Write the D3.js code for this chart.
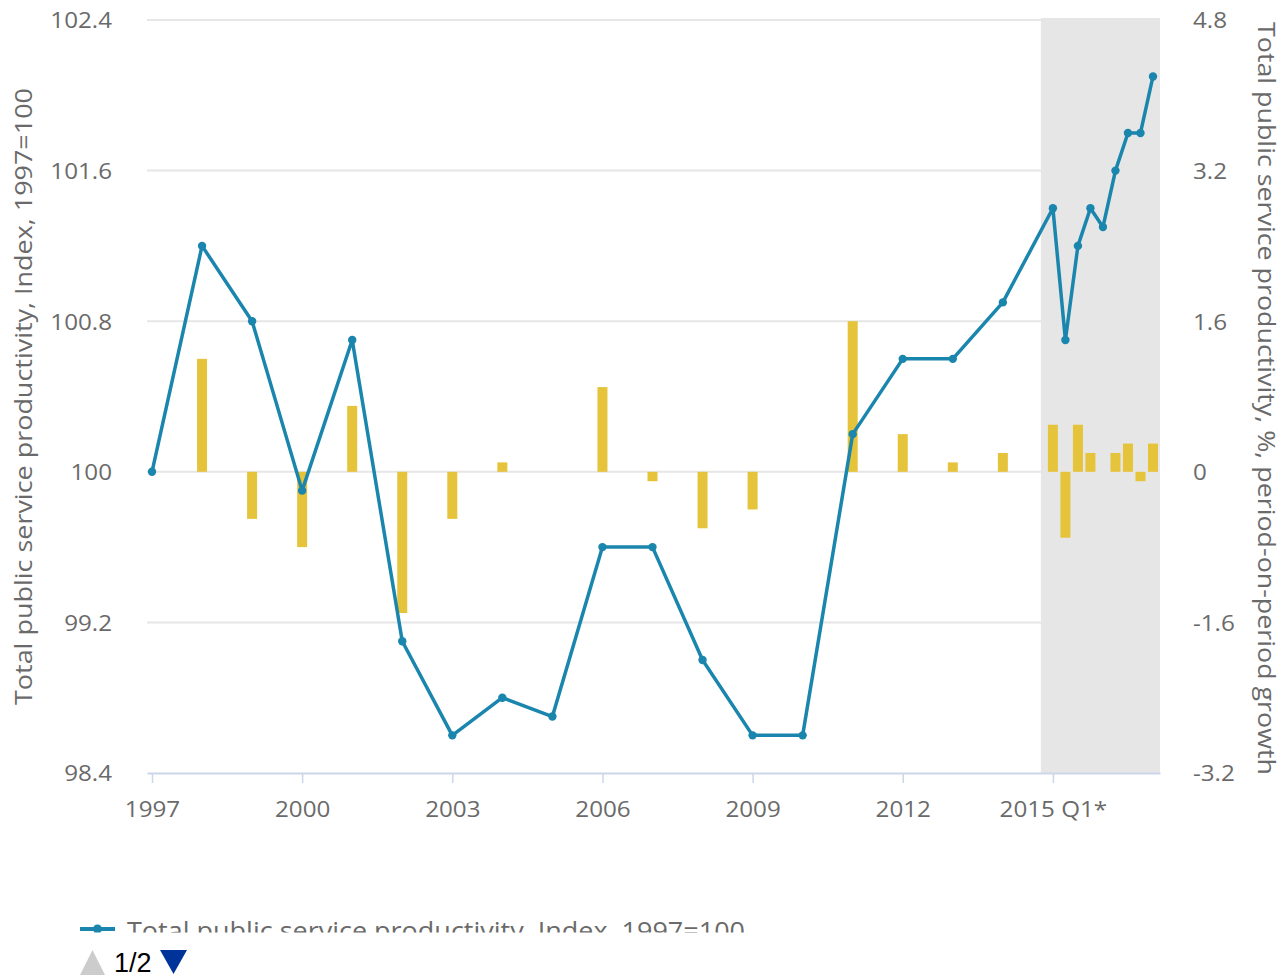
<!DOCTYPE html>
<html>
<head>
<meta charset="utf-8">
<script src="https://cdn.jsdelivr.net/npm/d3@7"></script>
<style>
  html, body { margin: 0; padding: 0; background: #fff; }
  svg { display: block; font-family: "Open Sans", sans-serif; }
</style>
</head>
<body>
<svg id="chart" width="1288" height="977"></svg>
<script>
// ---- data ----
const periods = ["1997","1998","1999","2000","2001","2002","2003","2004","2005","2006","2007","2008","2009","2010","2011","2012","2013","2014",
  "2015 Q1","2015 Q2","2015 Q3","2015 Q4","2016 Q1","2016 Q2","2016 Q3","2016 Q4","2017 Q1"];
const indexValues = [100.0, 101.2, 100.8, 99.9, 100.7, 99.1, 98.6, 98.8, 98.7, 99.6, 99.6, 99.0, 98.6, 98.6, 100.2, 100.6, 100.6, 100.9,
  101.4, 100.7, 101.2, 101.4, 101.3, 101.6, 101.8, 101.8, 102.1];
const growthValues = [null, 1.2, -0.5, -0.8, 0.7, -1.5, -0.5, 0.1, 0, 0.9, -0.1, -0.6, -0.4, 0, 1.6, 0.4, 0.1, 0.2,
  0.5, -0.7, 0.5, 0.2, 0, 0.2, 0.3, -0.1, 0.3];
const xTickValues = [1997, 2000, 2003, 2006, 2009, 2012, 2015];
const xTickLabels = ["1997", "2000", "2003", "2006", "2009", "2012", "2015 Q1*"];
const leftTicks = [98.4, 99.2, 100, 100.8, 101.6, 102.4];
const rightTicks = [-3.2, -1.6, 0, 1.6, 3.2, 4.8];
const bandStart = 2014.76;
const leftTitle = "Total public service productivity, Index, 1997=100";
const rightTitle = "Total public service productivity, %, period-on-period growth";
const legendLabel = "Total public service productivity, Index, 1997=100";

(function () {
function periodToNum(p) {
  const m = p.match(/^(\d{4})(?: Q(\d))?$/);
  const y = +m[1];
  return m[2] ? y + (+m[2] - 1) / 4 : y;
}
const data = periods.map((p, i) => ({ p, t: periodToNum(p), v: indexValues[i], g: growthValues[i] }));

const svg = d3.select("#chart");
const pLeft = 147, pRight = 1160, pTop = 20, pBottom = 773;

const x = d3.scaleLinear().domain([1996.9, 2017.14]).range([pLeft, pRight]);
const yL = d3.scaleLinear().domain([98.4, 102.4]).range([pBottom, pTop]);
const yR = d3.scaleLinear().domain([-3.2, 4.8]).range([pBottom, pTop]);

const lineColor = "#1a86ad";
const barColor = "#e5c33a";
const textColor = "#6a6a6a";
const tickFont = 22, tickStretch = 1.1;

// plot band
svg.append("rect")
  .attr("x", x(bandStart)).attr("y", pTop - 2)
  .attr("width", pRight - x(bandStart)).attr("height", pBottom - pTop + 2)
  .attr("fill", "#e6e6e6");

// gridlines
svg.append("g").selectAll("line").data(leftTicks.filter(d => d !== 98.4)).join("line")
  .attr("x1", pLeft).attr("x2", pRight)
  .attr("y1", d => yL(d)).attr("y2", d => yL(d))
  .attr("stroke", "#e6e6e6").attr("stroke-width", 2);

// x axis
const xAxis = d3.axisBottom(x).tickValues(xTickValues).tickSize(10).tickSizeOuter(0).tickFormat((d, i) => xTickLabels[i]);
const gx = svg.append("g").attr("transform", `translate(0,${pBottom})`).call(xAxis);
gx.select(".domain").attr("stroke", "#ccd6eb").attr("stroke-width", 2);
gx.selectAll(".tick line").attr("stroke", "#ccd6eb").attr("stroke-width", 1.5);
gx.selectAll(".tick text").attr("fill", textColor).attr("font-size", tickFont).attr("font-family", "Open Sans")
  .attr("y", 0).attr("dy", 0).attr("transform", `translate(0,44) scale(${tickStretch},1)`);

// left axis labels
const gl = svg.append("g").attr("transform", `translate(112,0)`)
  .call(d3.axisLeft(yL).tickValues(leftTicks).tickSize(0).tickPadding(0).tickFormat(d => String(d)));
gl.select(".domain").remove();
gl.selectAll(".tick text").attr("fill", textColor).attr("font-size", tickFont).attr("font-family", "Open Sans")
  .attr("x", 0).attr("dy", "0.36em").attr("transform", `scale(${tickStretch},1)`);

// right axis labels
const gr = svg.append("g").attr("transform", `translate(1193,0)`)
  .call(d3.axisRight(yR).tickValues(rightTicks).tickSize(0).tickPadding(0).tickFormat(d => String(d)));
gr.select(".domain").remove();
gr.selectAll(".tick text").attr("fill", textColor).attr("font-size", tickFont).attr("font-family", "Open Sans")
  .attr("x", 0).attr("dy", "0.36em").attr("transform", `scale(${tickStretch},1)`);

// axis titles
svg.append("text")
  .attr("transform", `translate(32,396.5) rotate(-90)`)
  .attr("text-anchor", "middle").attr("fill", textColor).attr("font-size", 24)
  .attr("textLength", 617).attr("lengthAdjust", "spacingAndGlyphs")
  .text(leftTitle);
svg.append("text")
  .attr("transform", `translate(1258,398.5) rotate(90)`)
  .attr("text-anchor", "middle").attr("fill", textColor).attr("font-size", 24)
  .attr("textLength", 753).attr("lengthAdjust", "spacingAndGlyphs")
  .text(rightTitle);

// bars
const barW = 10;
svg.append("g").selectAll("rect").data(data.filter(d => d.g !== null && d.g !== 0)).join("rect")
  .attr("x", d => x(d.t) - barW / 2)
  .attr("width", barW)
  .attr("y", d => Math.min(yR(d.g), yR(0)))
  .attr("height", d => Math.abs(yR(d.g) - yR(0)))
  .attr("fill", barColor);

// line
const line = d3.line().x(d => x(d.t)).y(d => yL(d.v));
svg.append("path").datum(data).attr("d", line)
  .attr("fill", "none").attr("stroke", lineColor).attr("stroke-width", 3.5).attr("stroke-linejoin", "round");
svg.append("g").selectAll("circle").data(data).join("circle")
  .attr("cx", d => x(d.t)).attr("cy", d => yL(d.v)).attr("r", 4.2)
  .attr("fill", lineColor);

// legend (clipped like the original)
const defs = svg.append("defs");
defs.append("clipPath").attr("id", "legclip").append("rect")
  .attr("x", 60).attr("y", 900).attr("width", 1200).attr("height", 32.5);
const leg = svg.append("g").attr("clip-path", "url(#legclip)");
leg.append("line").attr("x1", 80).attr("x2", 115).attr("y1", 929).attr("y2", 929)
  .attr("stroke", lineColor).attr("stroke-width", 4);
leg.append("circle").attr("cx", 97.5).attr("cy", 929).attr("r", 4.5).attr("fill", lineColor);
leg.append("text").attr("x", 127).attr("y", 940).attr("fill", textColor).attr("font-size", 25)
  .attr("textLength", 618).attr("lengthAdjust", "spacingAndGlyphs")
  .text(legendLabel);

// pager
svg.append("path").attr("d", "M80,975 L92.5,950 L105,975 Z").attr("fill", "#cccccc");
svg.append("text").attr("x", 114).attr("y", 972).attr("fill", "#000").attr("font-size", 27)
  .attr("font-family", "Liberation Sans, Arial, sans-serif").text("1/2");
svg.append("path").attr("d", "M160,950 L187,950 L173.5,974 Z").attr("fill", "#003399");
})();
</script>
</body>
</html>
